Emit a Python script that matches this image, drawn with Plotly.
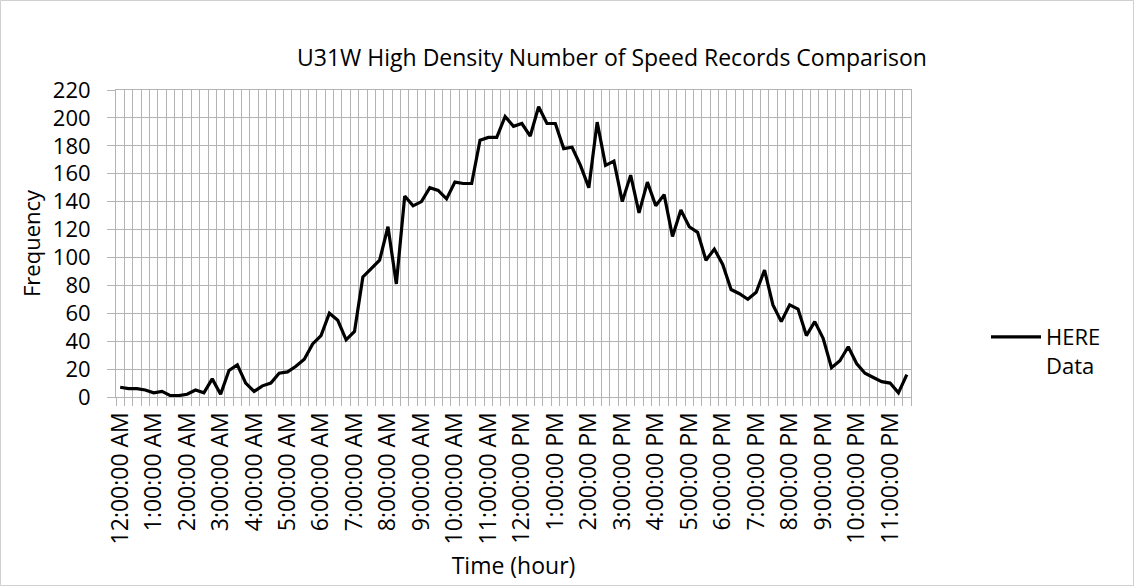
import plotly.graph_objects as go

# --- data -------------------------------------------------------------
hour_labels = ["12:00:00 AM", "1:00:00 AM", "2:00:00 AM", "3:00:00 AM", "4:00:00 AM",
               "5:00:00 AM", "6:00:00 AM", "7:00:00 AM", "8:00:00 AM", "9:00:00 AM",
               "10:00:00 AM", "11:00:00 AM", "12:00:00 PM", "1:00:00 PM", "2:00:00 PM",
               "3:00:00 PM", "4:00:00 PM", "5:00:00 PM", "6:00:00 PM", "7:00:00 PM",
               "8:00:00 PM", "9:00:00 PM", "10:00:00 PM", "11:00:00 PM"]
quarter_minutes = ["00", "15", "30", "45"]

here_data = [7, 6, 6, 5, 3, 4, 1, 1, 2, 5, 3, 13, 2, 19, 23, 10,
             4, 8, 10, 17, 18, 22, 27, 38, 44, 60, 55, 41, 47, 86, 92, 98,
             122, 81, 144, 137, 140, 150, 148, 142, 154, 153, 153, 184, 186, 186, 201, 194,
             196, 187, 208, 196, 196, 178, 179, 166, 150, 197, 166, 169, 140, 159, 132, 154,
             137, 145, 115, 134, 122, 118, 98, 106, 95, 77, 74, 70, 75, 91, 66, 54,
             66, 63, 44, 54, 42, 21, 26, 36, 24, 17, 14, 11, 10, 3, 16]

# categories: 15-minute time slots
categories = []
for h in hour_labels:
    hh, rest = h.split(":", 1)
    ampm = h.split(" ")[1]
    for q in quarter_minutes:
        categories.append(f"{hh}:{q}:00 {ampm}")
categories = categories[:len(here_data)]
tick_text = [c if c in hour_labels else "" for c in categories]

# --- figure -----------------------------------------------------------
W, H = 1135, 587
ML, MR, MT, MB = 116, 224, 90, 190
FONT = "Open Sans"
GRID = "#b3b3b3"

fig = go.Figure()
fig.add_trace(go.Scatter(
    x=categories, y=here_data, mode="lines", name="HERE<br>Data",
    line=dict(color="#000000", width=3.2),
))

pw = W - ML - MR
ph = H - MT - MB
fig.add_shape(type="rect", xref="paper", yref="paper",
              x0=(-ML + 0.5) / pw, x1=(pw + MR - 1.5) / pw,
              y0=(-MB + 1.5) / ph, y1=(ph + MT - 0.5) / ph,
              line=dict(color="#d0d0d0", width=1), fillcolor="rgba(0,0,0,0)", layer="below")

fig.update_layout(
    width=W, height=H,
    margin=dict(l=ML, r=MR, t=MT, b=MB, pad=0, autoexpand=False),
    paper_bgcolor="white", plot_bgcolor="white",
    font=dict(family=FONT, color="#000000", size=22),
    title=dict(text="U31W High Density Number of Speed Records Comparison",
               x=612 / W, xanchor="center", y=1 - 58 / H, yanchor="middle",
               font=dict(size=23, family=FONT, color="#000000")),
    showlegend=True,
    legend=dict(x=(986 - ML) / pw, xanchor="left", xref="paper",
                y=(ph - (316 - MT)) / ph, yanchor="top",
                font=dict(size=22, family=FONT), valign="top",
                itemwidth=50, bgcolor="rgba(0,0,0,0)", tracegroupgap=0),
    xaxis=dict(
        type="category", tickmode="array", tickvals=categories, ticktext=tick_text,
        tickson="boundaries", tickangle=-90, automargin=False,
        showgrid=True, gridcolor=GRID, gridwidth=1,
        ticks="outside", ticklen=8, tickcolor=GRID, tickwidth=1,
        showline=True, linecolor=GRID, linewidth=1, mirror=True,
        tickfont=dict(size=23, family=FONT), ticklabelstandoff=5,
        title=dict(text="Time (hour)", font=dict(size=23, family=FONT), standoff=14),
        range=[-0.5, len(categories) - 0.5],
    ),
    yaxis=dict(
        range=[0, 220], dtick=20, tick0=0, automargin=False,
        showgrid=True, gridcolor=GRID, gridwidth=1, zeroline=False,
        ticks="outside", ticklen=8, tickcolor=GRID, tickwidth=1,
        showline=True, linecolor=GRID, linewidth=1, mirror=True,
        tickfont=dict(size=22, family=FONT), ticklabelstandoff=12,
        title=dict(text="Frequency", font=dict(size=22, family=FONT), standoff=6),
    ),
)

fig.write_html("out.html", config={"displayModeBar": False},
               post_script="document.body.style.margin='0';")
